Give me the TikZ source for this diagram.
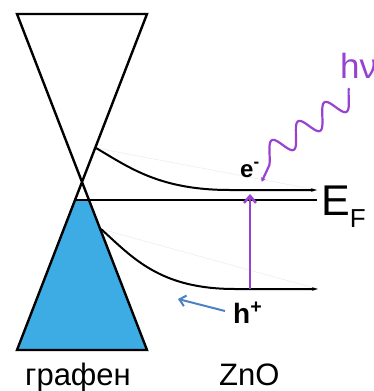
\documentclass[tikz,border=0pt]{standalone}
\usepackage{fontspec}
\setmainfont{Liberation Sans}
\usetikzlibrary{arrows.meta}
\definecolor{fillblue}{RGB}{62,172,228}
\definecolor{purp}{RGB}{152,66,208}
\definecolor{arrblue}{RGB}{74,130,196}
\begin{document}
\begin{tikzpicture}[x=1pt,y=-1pt,
  cone/.style={line width=2.4pt, line join=miter},
  band/.style={line width=2pt, -{Stealth[length=6pt,width=3.5pt]}},
  faint/.style={black!7, line width=0.6pt},
  lbl/.style={inner sep=0pt, anchor=base west},
  photon/.style={purp, line width=2.2pt, line cap=round,
     -{Stealth[length=4pt,width=5pt]}},
  excite/.style={purp, line width=2.5pt, -{Straight Barb[length=7pt,width=12pt]}},
  hole/.style={arrblue, line width=2pt, -{Straight Barb[length=6pt,width=11pt]}}]
\useasboundingbox (0,0) rectangle (373,391);
\clip (0,0) rectangle (373,391);
% cone corners
\coordinate (TL) at (17,14);
\coordinate (TR) at (147,14);
\coordinate (BL) at (17,350);
\coordinate (BR) at (147,350);
\coordinate (FL) at (75.04,200);
\coordinate (FM) at (88.96,200);
\coordinate (FR) at (317,200);
% filled lower part
\fill[fillblue] (FL) -- (FM) -- (BR) -- (BL) -- cycle;
\draw[cone] (TL) -- (TR) -- (BL) -- (BR) -- cycle;
% Fermi level
\draw[line width=2.4pt] (FL) -- (FR);
% bands
\coordinate (c0) at (96,148);
\coordinate (c1) at (230,190);
\coordinate (c2) at (317,190);
\coordinate (v0) at (101,229);
\coordinate (v1) at (235,289);
\coordinate (v2) at (318,289);
\draw[faint] (c0) -- (c2);
\draw[faint] (v0) -- (v2);
\draw[band] (c0) .. controls (130,168) and (160,190) .. (c1) -- (c2);
\draw[band] (v0) .. controls (133,258) and (160,289) .. (v1) -- (v2);
% excitation
\coordinate (x0) at (250,289);
\coordinate (x1) at (250,194);
\draw[excite] (x0) -- (x1);
% photon
\coordinate (p1) at (261.7,181.7);
\draw[photon] plot[domain=-2.33:18.25, samples=140, variable=\t, smooth]
   ({342.13 - 4.1985*\t + 4.628*cos(\t r)}, {102.28 + 3.0228*\t + 9.4238*cos(\t r)}) -- (p1);
% hole arrow
\coordinate (h0) at (225,311);
\coordinate (h1) at (178,299);
\draw[hole] (h0) -- (h1);
% labels
\node[lbl] (hv) at (340,78) {\fontsize{35}{35}\selectfont\color{purp}hν};
\node[lbl] (em) at (240,177) {\fontsize{24}{24}\selectfont\bfseries e\textsuperscript{-}};
\node[lbl] (hp) at (233,323) {\fontsize{28}{28}\selectfont\bfseries h\textsuperscript{+}};
\node[lbl] (EF) at (321,215) {\fontsize{43}{43}\selectfont E\raisebox{-12pt}{\fontsize{26}{26}\selectfont F}};
\node[lbl] (gr) at (25,385) {\fontsize{31}{31}\selectfont графен};
\node[lbl] (zn) at (219,385) {\fontsize{31}{31}\selectfont ZnO};
\end{tikzpicture}
\end{document}
